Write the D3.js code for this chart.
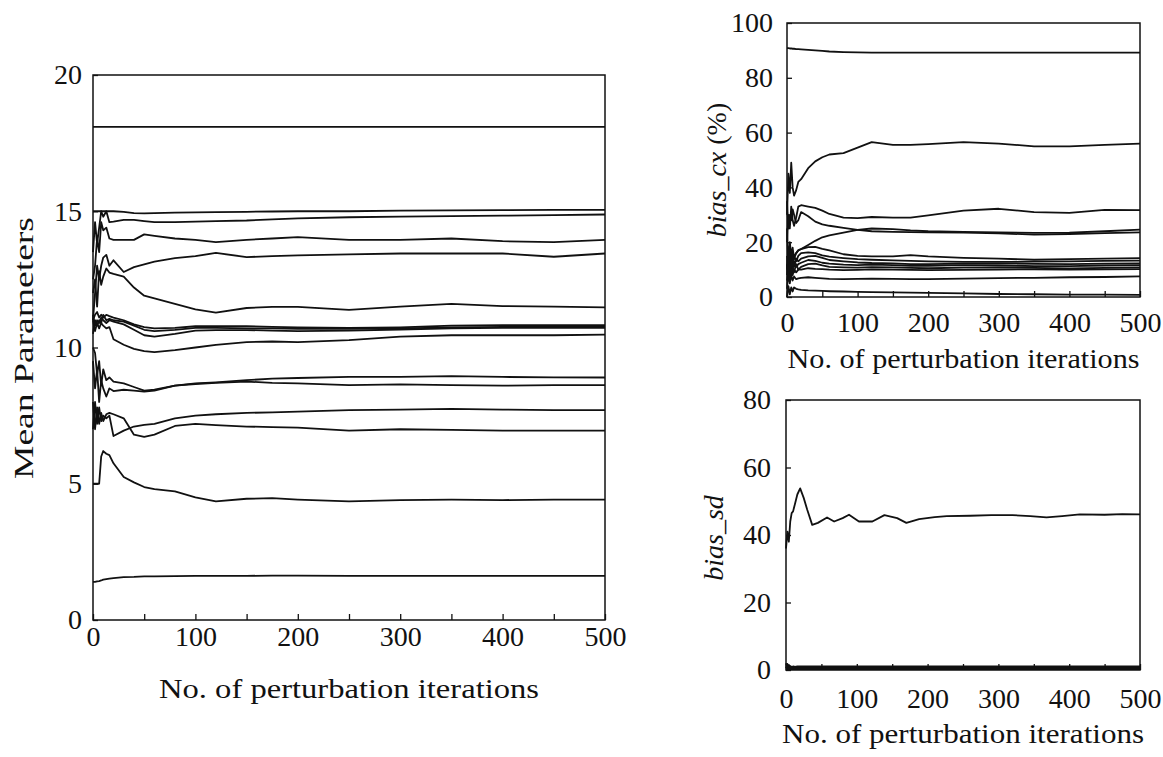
<!DOCTYPE html>
<html>
<head>
<meta charset="utf-8">
<script src="https://cdn.jsdelivr.net/npm/d3@7"></script>
<style>
  body { margin: 0; background: #fff; }
  text { fill: #111; }
</style>
</head>
<body>
<svg id="chart" width="1163" height="757"></svg>
<script>
// iterations sampled for the curves
var iters = [0,2,4,6,8,10,13,16,20,30,40,50,60,80,100,120,150,175,200,250,300,350,400,450,500];
var sdIters = [0,2,4,6,8,10,13,16,20,25,30,37,45,58,68,80,89,103,122,139,157,170,188,210,227,260,290,320,345,368,390,415,450,475,500];
var xTicks = [0,50,100,150,200,250,300,350,400,450,500];

// left panel: mean parameters
var mp18  = [18.1,18.1,18.1,18.1,18.1,18.1,18.1,18.1,18.1,18.1,18.1,18.1,18.1,18.1,18.1,18.1,18.1,18.1,18.1,18.1,18.1,18.1,18.1,18.1,18.1];
var mp15  = [15.0,15.0,15.0,15.0,15.0,15.0,15.0,15.0,15.0,14.98,14.93,14.92,14.93,14.95,14.96,14.97,14.98,14.99,15.0,15.0,15.02,15.03,15.04,15.05,15.05];
var mp148 = [13.5,14.6,13.8,14.4,15.0,14.8,15.0,14.6,14.62,14.68,14.68,14.64,14.6,14.6,14.62,14.64,14.66,14.7,14.74,14.78,14.8,14.82,14.84,14.86,14.88];
var mp14  = [12.5,13.0,14.0,13.5,14.6,14.3,14.4,14.0,13.95,13.95,13.95,14.15,14.1,14.0,13.95,13.87,13.95,14.0,14.05,13.95,13.95,14.0,13.9,13.87,13.95];
var mp135 = [11.0,12.0,13.0,12.5,13.0,13.3,13.4,13.0,13.2,12.77,12.95,13.05,13.15,13.28,13.35,13.47,13.32,13.35,13.38,13.42,13.45,13.45,13.45,13.33,13.45];
var mp115 = [12.0,12.5,11.5,12.8,12.3,12.6,12.9,12.75,12.7,12.6,12.2,11.9,11.8,11.6,11.4,11.28,11.45,11.49,11.49,11.38,11.5,11.6,11.52,11.5,11.47];
var mp108a = [11.0,11.2,11.3,11.1,11.2,11.1,11.2,11.15,11.1,11.0,10.85,10.75,10.7,10.72,10.78,10.78,10.78,10.76,10.74,10.72,10.74,10.8,10.82,10.82,10.82];
var mp108b = [10.5,11.0,10.8,11.0,10.9,11.2,11.0,11.05,11.0,10.95,10.8,10.65,10.6,10.65,10.72,10.72,10.7,10.7,10.68,10.68,10.7,10.74,10.76,10.76,10.76];
var mp108c = [11.2,10.8,11.0,10.9,11.1,11.0,10.9,11.0,10.95,10.85,10.65,10.45,10.4,10.5,10.62,10.64,10.64,10.62,10.6,10.62,10.66,10.7,10.72,10.72,10.72];
var mp104 = [11.0,10.6,10.9,10.7,10.9,10.8,10.7,10.75,10.3,10.1,9.95,9.87,9.83,9.9,10.0,10.1,10.2,10.22,10.2,10.27,10.4,10.45,10.45,10.45,10.47];
var mp89  = [10.0,9.8,9.0,9.5,8.6,9.2,8.8,8.9,8.75,8.68,8.55,8.42,8.45,8.6,8.68,8.72,8.8,8.86,8.88,8.92,8.92,8.95,8.92,8.9,8.9];
var mp86  = [9.5,8.5,9.2,8.0,8.8,8.5,8.2,8.5,8.4,8.45,8.42,8.38,8.42,8.6,8.66,8.7,8.75,8.7,8.68,8.62,8.65,8.62,8.6,8.62,8.62];
var mp77  = [7.0,8.0,7.2,7.8,7.3,7.5,7.4,7.5,6.75,6.95,7.1,7.16,7.2,7.4,7.5,7.55,7.6,7.62,7.65,7.7,7.72,7.75,7.72,7.7,7.7];
var mp70  = [8.0,7.0,7.8,7.2,7.6,7.3,7.55,7.6,7.55,7.4,6.8,6.72,6.8,7.12,7.2,7.15,7.1,7.08,7.06,6.95,7.0,6.98,6.95,6.95,6.95];
var mp44  = [5.0,5.0,5.0,5.0,6.0,6.2,6.1,6.05,5.75,5.25,5.05,4.88,4.8,4.72,4.5,4.35,4.45,4.47,4.42,4.35,4.4,4.42,4.4,4.42,4.42];
var mp16  = [1.4,1.4,1.42,1.43,1.45,1.48,1.5,1.52,1.54,1.57,1.58,1.6,1.6,1.61,1.62,1.62,1.62,1.63,1.63,1.62,1.62,1.62,1.62,1.62,1.62];

// top right: bias_cx (%)
var cx90  = [90.8,90.8,90.7,90.7,90.6,90.6,90.5,90.5,90.4,90.2,90.0,89.8,89.6,89.4,89.3,89.2,89.2,89.2,89.2,89.2,89.2,89.2,89.2,89.2,89.2];
var cx55  = [30,45,38,49,40,37,39,42,43,47,49.5,51,52,52.5,54.5,56.5,55.5,55.5,55.8,56.5,56,55,55,55.5,56];
var cx31  = [20,30,25,33,28,26,29,33,33.5,33,32.5,31.5,30.3,29,28.8,29.2,29,29,29.8,31.5,32.2,31,30.7,31.8,31.7];
var cx23a = [35,25,30,28,32,30,27,28,31,29.5,27.5,26.5,26,25.2,24.5,24,23.8,23.7,23.6,23.5,23.2,22.8,23,23.3,23.6];
var cx23b = [10,18,12,16,14,15,16,17,17.5,19,20.5,21.8,22.5,23.5,24.5,25,24.8,24.3,24,23.8,23.6,23.4,23.5,24,24.6];
var cx14  = [25,12,20,15,18,14,16,17,17.5,18.2,18.3,17.6,17.0,15.6,15.0,14.8,14.8,15.3,14.8,14.3,14.0,13.6,13.8,14.0,14.2];
var cx13  = [8,18,10,16,12,15,13,15,16,16.3,16,15.2,14.7,14.2,13.8,13.6,13.4,13.2,13.0,12.8,12.8,12.9,13.0,13.2,13.3];
var cx12  = [15,8,14,10,16,11,14,13,14,14.8,15,14.3,13.5,13,12.6,12.4,12.3,12.0,12.0,12.2,12.3,12.1,12.0,12.2,12.3];
var cx11  = [10,14,9,13,10,13,11,12,12.5,13.5,13.2,12.5,12.2,11.8,11.6,11.8,11.6,11.4,11.4,11.6,11.5,11.3,11.3,11.5,11.6];
var cx10a = [12,6,12,8,11,9,12,10,11,12,12.2,11.5,11.0,10.8,10.7,10.9,10.8,10.6,10.5,10.7,10.8,10.6,10.4,10.6,10.8];
var cx10b = [6,11,7,10,8,10,9,10,10,10.5,10.3,10.2,10,9.8,9.9,10.1,10,9.9,9.8,9.9,10,10.1,10,10.1,10.2];
var cx7   = [3,9,5,8,6,7.5,6.5,6.8,7,7.2,7.0,6.8,6.6,6.5,6.6,6.7,6.6,6.5,6.5,6.7,6.9,7.0,7.2,7.3,7.5];
var cx1   = [0,4,1,3.5,2,3.5,3,2.8,2.6,2.4,2.3,2.2,2.1,2.0,1.9,1.8,1.7,1.6,1.5,1.3,1.1,1.0,0.9,0.9,0.8];

// bottom right: bias_sd
var sd46 = [36,41,38,44,46.5,47,49.5,52,53.8,51,47.5,43,43.6,45.2,44,45,46,44,44,45.9,45,43.6,44.7,45.3,45.6,45.7,45.9,45.9,45.6,45.2,45.6,46.1,46.0,46.2,46.1];
var sd0a = [2,0.5,1.5,0.4,1,0.7,0.8,0.7,0.7,0.7,0.7,0.7,0.7,0.7,0.7,0.7,0.7,0.7,0.7,0.7,0.7,0.7,0.7,0.7,0.7];
var sd0b = [0.5,1.8,0.3,1.2,0.5,1.1,0.9,1.1,1.1,1.1,1.1,1.1,1.1,1.1,1.1,1.05,1.05,1.05,1.05,1.05,1.05,1.05,1.05,1.05,1.05];
var sd0c = [0.3,0.3,0.3,0.3,0.3,0.3,0.3,0.3,0.3,0.3,0.3,0.3,0.3,0.3,0.3,0.3,0.3,0.3,0.3,0.3,0.3,0.3,0.3,0.3,0.3];

var meanTicks = [0,5,10,15,20];
var cxTicks = [0,20,40,60,80,100];
var sdTicks = [0,20,40,60,80];

var svg = d3.select("#chart");
var font = "'Liberation Serif', 'Times New Roman', serif";

function drawPanel(p) {
  var x = d3.scaleLinear().domain([0, 500]).range([p.left, p.right]);
  var y = d3.scaleLinear().domain([0, p.yMax]).range([p.bottom, p.top]);
  var g = svg.append("g");

  var line = d3.line().x(function(d) { return x(d[0]); }).y(function(d) { return y(d[1]); });
  p.series.forEach(function(s) {
    g.append("path")
      .datum(d3.zip(s[0], s[1]))
      .attr("d", line)
      .attr("fill", "none")
      .attr("stroke", "#111")
      .attr("stroke-width", 1.8)
      .attr("stroke-linejoin", "round");
  });

  g.append("rect")
    .attr("x", p.left).attr("y", p.top)
    .attr("width", p.right - p.left).attr("height", p.bottom - p.top)
    .attr("fill", "none").attr("stroke", "#111").attr("stroke-width", 1.5);

  var xAxis = d3.axisBottom(x).tickValues(xTicks).tickSize(-6).tickPadding(p.xPad)
    .tickFormat(function(d) { return d % 100 ? "" : d; });
  var gx = g.append("g").attr("transform", "translate(0," + p.bottom + ")").call(xAxis);

  var yAxis = d3.axisLeft(y).tickValues(p.yTicks).tickSize(-5).tickPadding(p.yPad);
  var gy = g.append("g").attr("transform", "translate(" + p.left + ",0)").call(yAxis);

  [gx, gy].forEach(function(a) {
    a.select(".domain").remove();
    a.selectAll("line").attr("stroke", "#111").attr("stroke-width", 1.3);
    a.selectAll("text").attr("font-family", font).attr("font-size", 28).attr("fill", "#111");
  });

  g.append("text")
    .attr("x", (p.left + p.right) / 2).attr("y", p.titleY)
    .attr("text-anchor", "middle")
    .attr("font-family", font).attr("font-size", 27)
    .attr("textLength", p.titleLen).attr("lengthAdjust", "spacingAndGlyphs")
    .text("No. of perturbation iterations");

  return g;
}

drawPanel({
  left: 93, right: 605, top: 75, bottom: 620, yMax: 20,
  yTicks: meanTicks, xPad: 6, yPad: 11, titleY: 698, titleLen: 380,
  series: [mp18, mp15, mp148, mp14, mp135, mp115, mp108a, mp108b, mp108c, mp104, mp89, mp86, mp77, mp70, mp44, mp16]
    .map(function(v) { return [iters, v]; })
});

drawPanel({
  left: 787, right: 1140, top: 23, bottom: 297, yMax: 100,
  yTicks: cxTicks, xPad: 15, yPad: 14, titleY: 368, titleLen: 352,
  series: [cx90, cx55, cx31, cx23a, cx23b, cx14, cx13, cx12, cx11, cx10a, cx10b, cx7, cx1]
    .map(function(v) { return [iters, v]; })
});

drawPanel({
  left: 786, right: 1140, top: 400, bottom: 670, yMax: 80,
  yTicks: sdTicks, xPad: 18, yPad: 15, titleY: 743, titleLen: 362,
  series: [[sdIters, sd46], [iters, sd0a], [iters, sd0b], [iters, sd0c]]
});

// y titles
svg.append("text")
  .attr("transform", "translate(33,348) rotate(-90)")
  .attr("text-anchor", "middle")
  .attr("font-family", font).attr("font-size", 27)
  .attr("textLength", 262).attr("lengthAdjust", "spacingAndGlyphs")
  .text("Mean Parameters");

var cxTitle = svg.append("text")
  .attr("transform", "translate(726,170) rotate(-90)")
  .attr("text-anchor", "middle")
  .attr("font-family", font).attr("font-size", 28);
cxTitle.append("tspan").attr("font-style", "italic").text("bias_cx");
cxTitle.append("tspan").text(" (%)");

svg.append("text")
  .attr("transform", "translate(723,538) rotate(-90)")
  .attr("text-anchor", "middle")
  .attr("font-family", font).attr("font-size", 28).attr("font-style", "italic")
  .text("bias_sd");
</script>
</body>
</html>
